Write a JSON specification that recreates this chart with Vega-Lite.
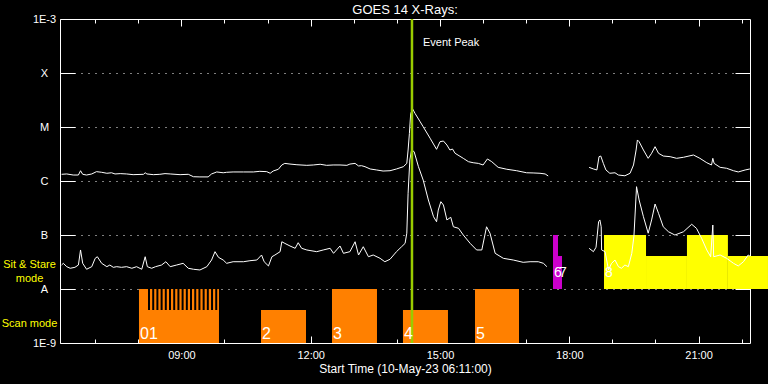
{
  "$schema": "https://vega.github.io/schema/vega-lite/v6.json",
  "width": 690,
  "height": 324,
  "autosize": {"type": "none"},
  "padding": {"left": 60, "top": 19, "right": 18, "bottom": 41},
  "background": "black",
  "title": {"text": "GOES 14 X-Rays:", "offset": 5, "baseline": "alphabetic", "dy": 19},
  "config": {
    "view": {"stroke": null},
    "axis": {
      "domainColor": "white", "tickColor": "white", "labelColor": "white", "titleColor": "white",
      "labelFont": "Liberation Sans", "titleFont": "Liberation Sans", "labelFontSize": 11,
      "titleFontSize": 12, "titleFontWeight": "normal", "grid": false, "domainWidth": 1, "tickWidth": 1
    },
    "title": {"color": "white", "font": "Liberation Sans", "fontSize": 13, "fontWeight": "normal"},
    "text": {"font": "Liberation Sans"}
  },
  "datasets": {
    "bars": [
      {"kind": "scan", "label": "01", "hour": 8.016, "hour2": 9.872, "top": 1e-8, "bottom": 1e-9},
      {"kind": "scan", "label": "2", "hour": 10.847, "hour2": 11.891, "top": 4.08e-9, "bottom": 1e-9},
      {"kind": "scan", "label": "3", "hour": 12.494, "hour2": 13.538, "top": 1e-8, "bottom": 1e-9},
      {"kind": "scan", "label": "4", "hour": 14.141, "hour2": 15.185, "top": 4.08e-9, "bottom": 1e-9},
      {"kind": "scan", "label": "5", "hour": 15.812, "hour2": 16.833, "top": 1e-8, "bottom": 1e-9},
      {"kind": "stare1", "label": "6", "hour": 17.622, "hour2": 17.738, "top": 1e-7, "bottom": 1e-8},
      {"kind": "stare1", "label": "7", "hour": 17.738, "hour2": 17.831, "top": 4.08e-8, "bottom": 1e-8},
      {"kind": "stare2", "label": "8", "hour": 18.805, "hour2": 19.78, "top": 1e-7, "bottom": 1e-8},
      {"kind": "stare2", "label": "", "hour": 19.78, "hour2": 20.73, "top": 4.08e-8, "bottom": 1e-8},
      {"kind": "stare2", "label": "", "hour": 20.73, "hour2": 21.68, "top": 1e-7, "bottom": 1e-8},
      {"kind": "stare2", "label": "", "hour": 21.68, "hour2": 22.61, "top": 4.08e-8, "bottom": 1e-8}
    ],
    "stripes": [
      {"hour": 8.248, "top": 1e-8, "bottom": 4.08e-9},
      {"hour": 8.346, "top": 1e-8, "bottom": 4.08e-9},
      {"hour": 8.443, "top": 1e-8, "bottom": 4.08e-9},
      {"hour": 8.541, "top": 1e-8, "bottom": 4.08e-9},
      {"hour": 8.638, "top": 1e-8, "bottom": 4.08e-9},
      {"hour": 8.736, "top": 1e-8, "bottom": 4.08e-9},
      {"hour": 8.833, "top": 1e-8, "bottom": 4.08e-9},
      {"hour": 8.931, "top": 1e-8, "bottom": 4.08e-9},
      {"hour": 9.028, "top": 1e-8, "bottom": 4.08e-9},
      {"hour": 9.126, "top": 1e-8, "bottom": 4.08e-9},
      {"hour": 9.223, "top": 1e-8, "bottom": 4.08e-9},
      {"hour": 9.321, "top": 1e-8, "bottom": 4.08e-9},
      {"hour": 9.418, "top": 1e-8, "bottom": 4.08e-9},
      {"hour": 9.516, "top": 1e-8, "bottom": 4.08e-9},
      {"hour": 9.613, "top": 1e-8, "bottom": 4.08e-9},
      {"hour": 9.711, "top": 1e-8, "bottom": 4.08e-9},
      {"hour": 9.808, "top": 1e-8, "bottom": 4.08e-9}
    ],
    "peak": [{"hour": 14.35, "flux": 3.6e-4, "label": "Event Peak"}],
    "xray": [
      {"t":"L1","hour":6.22,"flux":1.33e-6},{"t":"L1","hour":6.34,"flux":1.35e-6},{"t":"L1","hour":6.49,"flux":1.29e-6},{"t":"L1","hour":6.61,"flux":1.29e-6},{"t":"L1","hour":6.66,"flux":1.55e-6},{"t":"L1","hour":6.71,"flux":1.33e-6},{"t":"L1","hour":6.80,"flux":1.29e-6},{"t":"L1","hour":6.92,"flux":1.35e-6},{"t":"L1","hour":7.03,"flux":1.49e-6},{"t":"L1","hour":7.15,"flux":1.45e-6},{"t":"L1","hour":7.27,"flux":1.39e-6},{"t":"L1","hour":7.38,"flux":1.42e-6},{"t":"L1","hour":7.46,"flux":1.35e-6},{"t":"L1","hour":7.58,"flux":1.37e-6},{"t":"L1","hour":7.73,"flux":1.35e-6},{"t":"L1","hour":7.88,"flux":1.31e-6},{"t":"L1","hour":8.12,"flux":1.33e-6},{"t":"L1","hour":8.16,"flux":1.42e-6},{"t":"L1","hour":8.20,"flux":1.35e-6},{"t":"L1","hour":8.35,"flux":1.31e-6},{"t":"L1","hour":8.50,"flux":1.33e-6},{"t":"L1","hour":8.62,"flux":1.37e-6},{"t":"L1","hour":8.74,"flux":1.35e-6},{"t":"L1","hour":8.97,"flux":1.31e-6},{"t":"L1","hour":9.16,"flux":1.33e-6},{"t":"L1","hour":9.28,"flux":1.20e-6},{"t":"L1","hour":9.43,"flux":1.19e-6},{"t":"L1","hour":9.62,"flux":1.19e-6},{"t":"L1","hour":9.70,"flux":1.35e-6},{"t":"L1","hour":9.82,"flux":1.47e-6},{"t":"L1","hour":9.97,"flux":1.42e-6},{"t":"L1","hour":10.05,"flux":1.45e-6},{"t":"L1","hour":10.20,"flux":1.47e-6},{"t":"L1","hour":10.44,"flux":1.47e-6},{"t":"L1","hour":10.67,"flux":1.47e-6},{"t":"L1","hour":10.82,"flux":1.51e-6},{"t":"L1","hour":10.98,"flux":1.49e-6},{"t":"L1","hour":11.06,"flux":1.39e-6},{"t":"L1","hour":11.13,"flux":1.53e-6},{"t":"L1","hour":11.25,"flux":1.65e-6},{"t":"L1","hour":11.33,"flux":1.98e-6},{"t":"L1","hour":11.40,"flux":2.12e-6},{"t":"L1","hour":11.52,"flux":2.06e-6},{"t":"L1","hour":11.68,"flux":2.00e-6},{"t":"L1","hour":11.91,"flux":1.95e-6},{"t":"L1","hour":12.06,"flux":1.98e-6},{"t":"L1","hour":12.22,"flux":2.04e-6},{"t":"L1","hour":12.37,"flux":1.95e-6},{"t":"L1","hour":12.52,"flux":1.98e-6},{"t":"L1","hour":12.68,"flux":1.98e-6},{"t":"L1","hour":12.84,"flux":1.95e-6},{"t":"L1","hour":12.91,"flux":2.06e-6},{"t":"L1","hour":13.03,"flux":2.12e-6},{"t":"L1","hour":13.11,"flux":1.90e-6},{"t":"L1","hour":13.18,"flux":1.92e-6},{"t":"L1","hour":13.26,"flux":1.84e-6},{"t":"L1","hour":13.38,"flux":1.67e-6},{"t":"L1","hour":13.53,"flux":1.60e-6},{"t":"L1","hour":13.68,"flux":1.53e-6},{"t":"L1","hour":13.84,"flux":1.55e-6},{"t":"L1","hour":13.99,"flux":1.67e-6},{"t":"L1","hour":14.15,"flux":1.84e-6},{"t":"L1","hour":14.23,"flux":2.12e-6},{"t":"L1","hour":14.26,"flux":3.75e-6},{"t":"L1","hour":14.29,"flux":7.6e-6},{"t":"L1","hour":14.32,"flux":1.79e-5},{"t":"L1","hour":14.37,"flux":2.13e-5},{"t":"L1","hour":14.42,"flux":1.79e-5},{"t":"L1","hour":14.54,"flux":1.25e-5},{"t":"L1","hour":14.61,"flux":1.01e-5},{"t":"L1","hour":14.77,"flux":6.2e-6},{"t":"L1","hour":14.92,"flux":3.86e-6},{"t":"L1","hour":15.00,"flux":5.34e-6},{"t":"L1","hour":15.08,"flux":5.5e-6},{"t":"L1","hour":15.16,"flux":4.64e-6},{"t":"L1","hour":15.23,"flux":3.75e-6},{"t":"L1","hour":15.29,"flux":3.91e-6},{"t":"L1","hour":15.35,"flux":3.26e-6},{"t":"L1","hour":15.54,"flux":2.63e-6},{"t":"L1","hour":15.66,"flux":2.28e-6},{"t":"L1","hour":15.77,"flux":2.18e-6},{"t":"L1","hour":15.89,"flux":2.12e-6},{"t":"L1","hour":16.00,"flux":1.98e-6},{"t":"L1","hour":16.10,"flux":2.56e-6},{"t":"L1","hour":16.20,"flux":2.28e-6},{"t":"L1","hour":16.35,"flux":1.79e-6},{"t":"L1","hour":16.55,"flux":1.65e-6},{"t":"L1","hour":16.78,"flux":1.55e-6},{"t":"L1","hour":17.01,"flux":1.42e-6},{"t":"L1","hour":17.16,"flux":1.41e-6},{"t":"L1","hour":17.32,"flux":1.39e-6},{"t":"L1","hour":17.44,"flux":1.35e-6},{"t":"L1","hour":17.51,"flux":1.24e-6},
      {"t":"L2","hour":18.46,"flux":1.79e-6},{"t":"L2","hour":18.56,"flux":1.67e-6},{"t":"L2","hour":18.64,"flux":1.60e-6},{"t":"L2","hour":18.69,"flux":2.82e-6},{"t":"L2","hour":18.73,"flux":2.90e-6},{"t":"L2","hour":18.79,"flux":2.12e-6},{"t":"L2","hour":18.85,"flux":1.60e-6},{"t":"L2","hour":18.94,"flux":1.39e-6},{"t":"L2","hour":19.06,"flux":1.42e-6},{"t":"L2","hour":19.14,"flux":1.29e-6},{"t":"L2","hour":19.29,"flux":1.25e-6},{"t":"L2","hour":19.41,"flux":1.39e-6},{"t":"L2","hour":19.49,"flux":1.98e-6},{"t":"L2","hour":19.55,"flux":3.75e-6},{"t":"L2","hour":19.58,"flux":5.75e-6},{"t":"L2","hour":19.62,"flux":5.34e-6},{"t":"L2","hour":19.72,"flux":3.75e-6},{"t":"L2","hour":19.83,"flux":2.63e-6},{"t":"L2","hour":19.91,"flux":3.26e-6},{"t":"L2","hour":19.99,"flux":4.32e-6},{"t":"L2","hour":20.07,"flux":3.26e-6},{"t":"L2","hour":20.18,"flux":2.90e-6},{"t":"L2","hour":20.34,"flux":2.82e-6},{"t":"L2","hour":20.49,"flux":2.63e-6},{"t":"L2","hour":20.65,"flux":2.75e-6},{"t":"L2","hour":20.88,"flux":3.03e-6},{"t":"L2","hour":21.03,"flux":2.63e-6},{"t":"L2","hour":21.19,"flux":2.18e-6},{"t":"L2","hour":21.30,"flux":1.98e-6},{"t":"L2","hour":21.33,"flux":2.63e-6},{"t":"L2","hour":21.36,"flux":2.12e-6},{"t":"L2","hour":21.50,"flux":1.79e-6},{"t":"L2","hour":21.65,"flux":1.72e-6},{"t":"L2","hour":21.81,"flux":1.55e-6},{"t":"L2","hour":21.92,"flux":1.47e-6},{"t":"L2","hour":22.08,"flux":1.60e-6},{"t":"L2","hour":22.19,"flux":1.67e-6},
      {"t":"S1","hour":6.22,"flux":2.78e-8},{"t":"S1","hour":6.26,"flux":2.99e-8},{"t":"S1","hour":6.34,"flux":2.59e-8},{"t":"S1","hour":6.42,"flux":2.42e-8},{"t":"S1","hour":6.53,"flux":2.52e-8},{"t":"S1","hour":6.61,"flux":2.78e-8},{"t":"S1","hour":6.66,"flux":5.28e-8},{"t":"S1","hour":6.71,"flux":2.99e-8},{"t":"S1","hour":6.80,"flux":2.32e-8},{"t":"S1","hour":6.92,"flux":2.59e-8},{"t":"S1","hour":7.00,"flux":3.70e-8},{"t":"S1","hour":7.05,"flux":3.96e-8},{"t":"S1","hour":7.15,"flux":2.99e-8},{"t":"S1","hour":7.27,"flux":2.59e-8},{"t":"S1","hour":7.34,"flux":2.78e-8},{"t":"S1","hour":7.42,"flux":2.52e-8},{"t":"S1","hour":7.50,"flux":2.59e-8},{"t":"S1","hour":7.61,"flux":2.52e-8},{"t":"S1","hour":7.73,"flux":2.59e-8},{"t":"S1","hour":7.85,"flux":2.42e-8},{"t":"S1","hour":7.96,"flux":2.59e-8},{"t":"S1","hour":8.08,"flux":2.32e-8},{"t":"S1","hour":8.16,"flux":3.96e-8},{"t":"S1","hour":8.21,"flux":2.59e-8},{"t":"S1","hour":8.31,"flux":2.42e-8},{"t":"S1","hour":8.40,"flux":2.59e-8},{"t":"S1","hour":8.54,"flux":2.78e-8},{"t":"S1","hour":8.64,"flux":3.20e-8},{"t":"S1","hour":8.74,"flux":2.59e-8},{"t":"S1","hour":8.89,"flux":2.78e-8},{"t":"S1","hour":9.04,"flux":2.99e-8},{"t":"S1","hour":9.16,"flux":2.42e-8},{"t":"S1","hour":9.28,"flux":2.32e-8},{"t":"S1","hour":9.43,"flux":2.25e-8},{"t":"S1","hour":9.59,"flux":2.59e-8},{"t":"S1","hour":9.70,"flux":3.44e-8},{"t":"S1","hour":9.78,"flux":4.91e-8},{"t":"S1","hour":9.86,"flux":3.86e-8},{"t":"S1","hour":9.97,"flux":3.44e-8},{"t":"S1","hour":10.05,"flux":2.99e-8},{"t":"S1","hour":10.20,"flux":3.20e-8},{"t":"S1","hour":10.44,"flux":3.20e-8},{"t":"S1","hour":10.59,"flux":3.34e-8},{"t":"S1","hour":10.75,"flux":3.44e-8},{"t":"S1","hour":10.86,"flux":4.26e-8},{"t":"S1","hour":10.92,"flux":3.20e-8},{"t":"S1","hour":11.02,"flux":2.67e-8},{"t":"S1","hour":11.10,"flux":3.96e-8},{"t":"S1","hour":11.17,"flux":4.26e-8},{"t":"S1","hour":11.29,"flux":4.91e-8},{"t":"S1","hour":11.33,"flux":7.5e-8},{"t":"S1","hour":11.40,"flux":7.0e-8},{"t":"S1","hour":11.52,"flux":6.26e-8},{"t":"S1","hour":11.64,"flux":5.67e-8},{"t":"S1","hour":11.71,"flux":7.2e-8},{"t":"S1","hour":11.79,"flux":5.67e-8},{"t":"S1","hour":11.91,"flux":5.28e-8},{"t":"S1","hour":12.14,"flux":4.91e-8},{"t":"S1","hour":12.29,"flux":5.28e-8},{"t":"S1","hour":12.45,"flux":5.67e-8},{"t":"S1","hour":12.53,"flux":4.58e-8},{"t":"S1","hour":12.68,"flux":6.26e-8},{"t":"S1","hour":12.76,"flux":4.58e-8},{"t":"S1","hour":12.91,"flux":4.91e-8},{"t":"S1","hour":13.03,"flux":7.5e-8},{"t":"S1","hour":13.11,"flux":4.26e-8},{"t":"S1","hour":13.22,"flux":6.07e-8},{"t":"S1","hour":13.34,"flux":3.96e-8},{"t":"S1","hour":13.45,"flux":4.26e-8},{"t":"S1","hour":13.61,"flux":3.70e-8},{"t":"S1","hour":13.72,"flux":3.20e-8},{"t":"S1","hour":13.84,"flux":3.55e-8},{"t":"S1","hour":13.99,"flux":4.91e-8},{"t":"S1","hour":14.11,"flux":6.07e-8},{"t":"S1","hour":14.19,"flux":7.0e-8},{"t":"S1","hour":14.23,"flux":1.08e-7},{"t":"S1","hour":14.26,"flux":5.93e-7},{"t":"S1","hour":14.30,"flux":2.45e-6},{"t":"S1","hour":14.34,"flux":3.75e-6},{"t":"S1","hour":14.40,"flux":3.49e-6},{"t":"S1","hour":14.50,"flux":1.84e-6},{"t":"S1","hour":14.61,"flux":1.04e-6},{"t":"S1","hour":14.73,"flux":4.45e-7},{"t":"S1","hour":14.85,"flux":2.18e-7},{"t":"S1","hour":14.92,"flux":1.76e-7},{"t":"S1","hour":14.96,"flux":2.90e-7},{"t":"S1","hour":15.02,"flux":4.14e-7},{"t":"S1","hour":15.08,"flux":3.59e-7},{"t":"S1","hour":15.16,"flux":1.90e-7},{"t":"S1","hour":15.25,"flux":2.13e-7},{"t":"S1","hour":15.31,"flux":1.42e-7},{"t":"S1","hour":15.43,"flux":1.33e-7},{"t":"S1","hour":15.54,"flux":1.0e-7},{"t":"S1","hour":15.70,"flux":7.0e-8},{"t":"S1","hour":15.85,"flux":5.28e-8},{"t":"S1","hour":15.97,"flux":5.28e-8},{"t":"S1","hour":16.08,"flux":1.42e-7},{"t":"S1","hour":16.16,"flux":1.08e-7},{"t":"S1","hour":16.28,"flux":4.58e-8},{"t":"S1","hour":16.47,"flux":3.70e-8},{"t":"S1","hour":16.70,"flux":3.44e-8},{"t":"S1","hour":16.93,"flux":3.12e-8},{"t":"S1","hour":17.09,"flux":3.20e-8},{"t":"S1","hour":17.28,"flux":3.20e-8},{"t":"S1","hour":17.40,"flux":2.99e-8},{"t":"S1","hour":17.48,"flux":2.59e-8},
      {"t":"S2","hour":18.46,"flux":5.67e-8},{"t":"S2","hour":18.56,"flux":4.91e-8},{"t":"S2","hour":18.62,"flux":5.93e-8},{"t":"S2","hour":18.68,"flux":1.76e-7},{"t":"S2","hour":18.71,"flux":1.90e-7},{"t":"S2","hour":18.74,"flux":1.42e-7},{"t":"S2","hour":18.75,"flux":5.28e-8},{"t":"S2","hour":18.83,"flux":4.91e-8},{"t":"S2","hour":18.91,"flux":2.25e-8},{"t":"S2","hour":18.98,"flux":2.99e-8},{"t":"S2","hour":19.06,"flux":3.44e-8},{"t":"S2","hour":19.14,"flux":2.59e-8},{"t":"S2","hour":19.21,"flux":2.42e-8},{"t":"S2","hour":19.29,"flux":2.78e-8},{"t":"S2","hour":19.37,"flux":2.59e-8},{"t":"S2","hour":19.45,"flux":4.58e-8},{"t":"S2","hour":19.50,"flux":9.58e-8},{"t":"S2","hour":19.56,"flux":7.85e-7},{"t":"S2","hour":19.62,"flux":4.45e-7},{"t":"S2","hour":19.72,"flux":2.18e-7},{"t":"S2","hour":19.83,"flux":1.08e-7},{"t":"S2","hour":19.91,"flux":1.90e-7},{"t":"S2","hour":19.99,"flux":3.75e-7},{"t":"S2","hour":20.07,"flux":2.52e-7},{"t":"S2","hour":20.18,"flux":1.42e-7},{"t":"S2","hour":20.30,"flux":1.15e-7},{"t":"S2","hour":20.45,"flux":1.0e-7},{"t":"S2","hour":20.65,"flux":1.15e-7},{"t":"S2","hour":20.84,"flux":1.58e-7},{"t":"S2","hour":20.95,"flux":1.33e-7},{"t":"S2","hour":21.07,"flux":8.68e-8},{"t":"S2","hour":21.19,"flux":5.28e-8},{"t":"S2","hour":21.28,"flux":3.96e-8},{"t":"S2","hour":21.33,"flux":1.53e-7},{"t":"S2","hour":21.35,"flux":3.96e-8},{"t":"S2","hour":21.50,"flux":4.26e-8},{"t":"S2","hour":21.65,"flux":3.70e-8},{"t":"S2","hour":21.81,"flux":2.99e-8},{"t":"S2","hour":21.92,"flux":2.67e-8},{"t":"S2","hour":22.04,"flux":3.20e-8},{"t":"S2","hour":22.15,"flux":4.26e-8},{"t":"S2","hour":22.19,"flux":4.08e-8}
    ]
  },
  "layer": [
    {
      "layer": [
        {
          "data": {"name": "bars"},
          "mark": {"type": "rect", "clip": false},
          "encoding": {
            "x": {
              "field": "hour", "type": "quantitative",
              "scale": {"domain": [6.1833, 22.1926], "nice": false, "zero": false},
              "axis": {
                "orient": "bottom",
                "values": [7, 8, 9, 10, 11, 12, 13, 14, 15, 16, 17, 18, 19, 20, 21, 22],
                "labelExpr": "datum.value % 3 == 0 ? ((datum.value < 10 ? '0' : '') + datum.value + ':00') : ''",
                "tickSize": {"condition": {"test": "datum.value % 3 == 0", "value": -7}, "value": -4},
                "labelPadding": 13,
                "labelFlush": false,
                "labelOverlap": false,
                "title": "Start Time (10-May-23 06:11:00)",
                "titlePadding": 0
              }
            },
            "x2": {"field": "hour2"},
            "y": {
              "field": "top", "type": "quantitative",
              "scale": {"type": "log", "domain": [1e-9, 1e-3], "nice": false},
              "axis": {
                "orient": "left",
                "values": [1e-9, 2.25e-9, 1e-8, 2.8e-8, 1e-7, 1e-6, 1e-5, 1e-4, 1e-3],
                "labelExpr": "datum.value < 1.5e-9 ? '1E-9' : datum.value < 5e-9 ? 'Scan mode' : datum.value < 1.5e-8 ? 'A' : datum.value < 5e-8 ? ['Sit & Stare', 'mode'] : datum.value < 1.5e-7 ? 'B' : datum.value < 1.5e-6 ? 'C' : datum.value < 1.5e-5 ? 'M' : datum.value < 1.5e-4 ? 'X' : '1E-3'",
                "labelColor": {"condition": {"test": "(datum.value > 2e-9 && datum.value < 5e-9) || (datum.value > 2e-8 && datum.value < 5e-8)", "value": "#ffff00"}, "value": "white"},
                "tickSize": {"condition": {"test": "(datum.value > 2e-9 && datum.value < 5e-9) || (datum.value > 2e-8 && datum.value < 5e-8)", "value": 0}, "value": -15},
                "labelAlign": "center",
                "labelBaseline": "middle",
                "labelPadding": 31,
                "labelLineHeight": 14,
                "labelOverlap": false,
                "labelFlush": false,
                "grid": true,
                "gridColor": "white",
                "gridDash": [1, 6],
                "gridOpacity": {"condition": {"test": "datum.value > 5e-9 && datum.value < 5e-4 && !(datum.value > 2e-8 && datum.value < 5e-8)", "value": 1}, "value": 0},
                "title": null
              }
            },
            "y2": {"field": "bottom"},
            "color": {
              "field": "kind", "type": "nominal",
              "scale": {"domain": ["scan", "stare1", "stare2"], "range": ["#ff8000", "#cc00cc", "#ffff00"]},
              "legend": null
            }
          }
        },
        {
          "data": {"name": "stripes"},
          "mark": {"type": "rule", "color": "black", "strokeWidth": 2},
          "encoding": {
            "x": {"field": "hour", "type": "quantitative"},
            "y": {"field": "top", "type": "quantitative"},
            "y2": {"field": "bottom"}
          }
        },
        {
          "data": {"name": "xray"},
          "mark": {"type": "line", "color": "white", "strokeWidth": 1, "clip": true},
          "encoding": {
            "x": {"field": "hour", "type": "quantitative"},
            "y": {"field": "flux", "type": "quantitative"},
            "detail": {"field": "t", "type": "nominal"}
          }
        },
        {
          "data": {"name": "peak"},
          "mark": {"type": "rule", "color": "#99cc00", "strokeWidth": 2.5},
          "encoding": {"x": {"field": "hour", "type": "quantitative"}}
        },
        {
          "data": {"name": "peak"},
          "mark": {"type": "text", "color": "white", "fontSize": 11, "align": "left", "baseline": "middle", "dx": 11},
          "encoding": {
            "x": {"field": "hour", "type": "quantitative"},
            "y": {"field": "flux", "type": "quantitative"},
            "text": {"field": "label"}
          }
        },
        {
          "data": {"name": "bars"},
          "transform": [{"filter": "datum.kind == 'scan'"}],
          "mark": {"type": "text", "color": "white", "fontSize": 16, "align": "left", "baseline": "alphabetic", "dx": 1, "dy": -4},
          "encoding": {
            "x": {"field": "hour", "type": "quantitative"},
            "y": {"field": "bottom", "type": "quantitative"},
            "text": {"field": "label"}
          }
        },
        {
          "data": {"name": "bars"},
          "transform": [{"filter": "datum.kind != 'scan' && datum.label != ''"}],
          "mark": {"type": "text", "color": "white", "fontSize": 14, "align": "left", "baseline": "alphabetic", "dx": 1, "dy": -12},
          "encoding": {
            "x": {"field": "hour", "type": "quantitative"},
            "y": {"field": "bottom", "type": "quantitative"},
            "text": {"field": "label"}
          }
        }
      ]
    },
    {
      "data": {"name": "peak"},
      "mark": {"type": "point", "opacity": 0, "size": 0},
      "encoding": {
        "x": {
          "field": "hour", "type": "quantitative",
          "scale": {"domain": [6.1833, 22.1926], "nice": false, "zero": false},
          "axis": {
            "orient": "top", "labels": false, "title": null,
            "values": [7, 8, 9, 10, 11, 12, 13, 14, 15, 16, 17, 18, 19, 20, 21, 22],
            "tickSize": {"condition": {"test": "datum.value % 3 == 0", "value": -7}, "value": -4}
          }
        },
        "y": {
          "field": "flux", "type": "quantitative",
          "scale": {"type": "log", "domain": [1e-9, 1e-3], "nice": false},
          "axis": {
            "orient": "right", "labels": false, "title": null,
            "values": [1e-8, 1e-7, 1e-6, 1e-5, 1e-4],
            "tickSize": -15
          }
        }
      }
    }
  ],
  "resolve": {"scale": {"x": "independent", "y": "independent"}}
}
